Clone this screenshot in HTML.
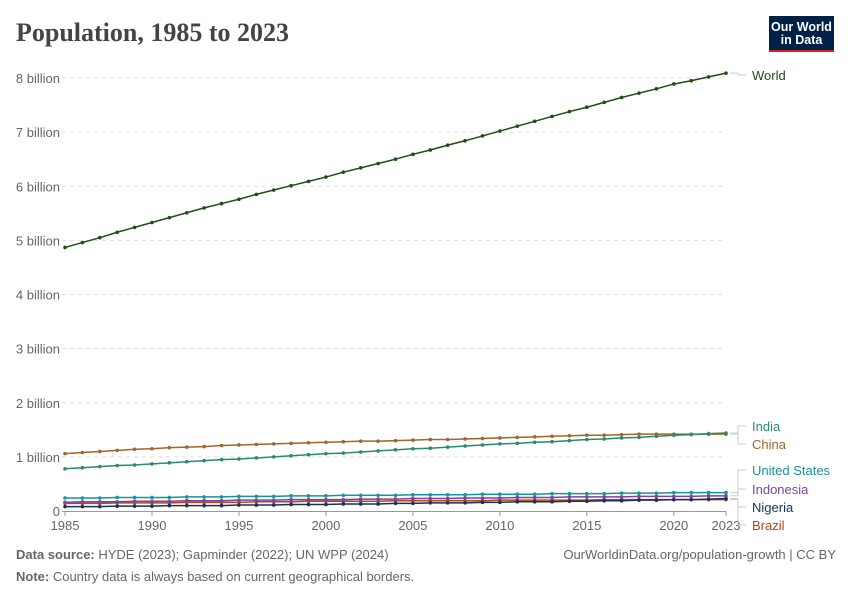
<!DOCTYPE html>
<html><head><meta charset="utf-8"><style>
body{margin:0;background:#fff;font-family:"Liberation Sans",sans-serif;}
#wrap{position:relative;width:850px;height:600px;overflow:hidden;}
</style></head><body>
<div id="wrap">
<svg id="chart" width="850" height="600"></svg>
</div>
<script>
const years=[];for(let y=1985;y<=2023;y++)years.push(y);
const world=[4.87,4.96,5.05,5.15,5.24,5.33,5.42,5.51,5.60,5.68,5.76,5.85,5.93,6.01,6.09,6.17,6.26,6.34,6.42,6.50,6.59,6.67,6.76,6.84,6.93,7.02,7.11,7.20,7.29,7.38,7.46,7.55,7.64,7.72,7.80,7.89,7.95,8.02,8.09];
const india=[.78,.80,.82,.84,.85,.87,.89,.91,.93,.95,.96,.98,1.00,1.02,1.04,1.06,1.07,1.09,1.11,1.13,1.15,1.16,1.18,1.20,1.22,1.24,1.25,1.27,1.28,1.30,1.32,1.33,1.35,1.36,1.38,1.40,1.41,1.43,1.44];
const china=[1.06,1.08,1.10,1.12,1.14,1.15,1.17,1.18,1.19,1.21,1.22,1.23,1.24,1.25,1.26,1.27,1.28,1.29,1.29,1.30,1.31,1.32,1.32,1.33,1.34,1.35,1.36,1.37,1.38,1.39,1.40,1.40,1.41,1.42,1.42,1.42,1.42,1.42,1.42];
const usa=[.24,.24,.24,.25,.25,.25,.25,.26,.26,.26,.27,.27,.27,.28,.28,.28,.29,.29,.29,.29,.30,.30,.30,.30,.31,.31,.31,.31,.32,.32,.32,.32,.33,.33,.33,.34,.34,.34,.34];
const indonesia=[.16,.17,.17,.17,.18,.18,.18,.19,.19,.19,.20,.20,.20,.21,.21,.21,.21,.22,.22,.22,.23,.23,.23,.24,.24,.24,.25,.25,.25,.26,.26,.26,.26,.27,.27,.27,.27,.28,.28];
const nigeria=[.08,.08,.08,.09,.09,.09,.10,.10,.10,.10,.11,.11,.11,.12,.12,.12,.13,.13,.13,.14,.14,.15,.15,.15,.16,.16,.17,.17,.17,.18,.18,.19,.19,.20,.20,.21,.21,.22,.23];
const brazil=[.14,.14,.14,.15,.15,.15,.15,.16,.16,.16,.16,.17,.17,.17,.18,.18,.18,.18,.18,.19,.19,.19,.19,.19,.19,.20,.20,.20,.20,.20,.20,.21,.21,.21,.21,.21,.21,.21,.21];
const yTicks=[0,1,2,3,4,5,6,7,8];
const yTickLabels=["0","1 billion","2 billion","3 billion","4 billion","5 billion","6 billion","7 billion","8 billion"];
const xTicks=[1985,1990,1995,2000,2005,2010,2015,2020,2023];

const svg=document.getElementById('chart');const NS="http://www.w3.org/2000/svg";
const X=y=>65+(y-1985)*(726-65)/38;
const Y=v=>511-v*(511-78)/8;
function mk(tag,attrs,parent){const e=document.createElementNS(NS,tag);for(const k in attrs)e.setAttribute(k,attrs[k]);(parent||svg).appendChild(e);return e;}
function txt(s,attrs){const e=mk('text',attrs);e.textContent=s;return e;}

let t=txt("Population, 1985 to 2023",{x:16,y:41,'font-family':'"Liberation Serif",serif','font-size':26,'font-weight':'bold',fill:'#444'});


const logo=mk('g',{});


mk('rect',{x:769,y:16,width:65,height:36,fill:'#002147'},logo);
mk('rect',{x:769,y:50,width:65,height:2,fill:'#ce261e'},logo);
let l1=mk('text',{x:801.5,y:31,'font-size':12.5,'font-weight':'bold',fill:'#fff','text-anchor':'middle'},logo);l1.textContent="Our World";
let l2=mk('text',{x:801.5,y:44,'font-size':12.5,'font-weight':'bold',fill:'#fff','text-anchor':'middle'},logo);l2.textContent="in Data";

yTicks.forEach((v,i)=>{
  if(v>0){const g=mk('line',{x1:62,x2:726,y1:Y(v),y2:Y(v),stroke:'#ddd','stroke-dasharray':'4,4'});
  
  }
  const l=txt(yTickLabels[i],{x:60,y:Y(v)+5,'font-size':13,fill:'#666','text-anchor':'end'});
  
  
});
const ax=mk('line',{x1:62,x2:726,y1:511.5,y2:511.5,stroke:'#999'});


xTicks.forEach(y=>{
  const tk=mk('line',{x1:X(y),x2:X(y),y1:511,y2:516,stroke:'#999'});
  
  
  const l=txt(String(y),{x:X(y),y:530,'font-size':13,fill:'#666','text-anchor':'middle'});
  
  
});

const series=[
 {n:'brazil',d:brazil,c:'#b5451b',label:'Brazil',ly:525},
 {n:'nigeria',d:nigeria,c:'#18305c',label:'Nigeria',ly:507},
 {n:'indonesia',d:indonesia,c:'#7a45a0',label:'Indonesia',ly:489},
 {n:'united-states',d:usa,c:'#18949c',label:'United States',ly:470},
 {n:'china',d:china,c:'#a2652a',label:'China',ly:444},
 {n:'india',d:india,c:'#2a8a6e',label:'India',ly:426},
 {n:'world',d:world,c:'#1f4d14',label:'World',ly:75}
];
series.forEach(s=>{
  const g=mk('g',{});
  
  
  const pts=s.d.map((v,i)=>X(years[i])+','+Y(v)).join(' ');
  mk('polyline',{points:pts,fill:'none',stroke:s.c,'stroke-width':1.5},g);
  s.d.forEach((v,i)=>{const c=mk('circle',{cx:X(years[i]),cy:Y(v),r:1.8,fill:s.c},g);
    
    });
  const endY=Y(s.d[s.d.length-1]);
  const ty=s.ly;
  mk('polyline',{points:`${X(2023)+4},${endY} 738,${endY} 738,${ty} 746,${ty}`,fill:'none',stroke:'#ccc'},g);
  const l=txt(s.label,{x:752,y:s.ly+5,'font-size':13,fill:s.c});
  
  
});

const f1=txt("",{x:16,y:559,'font-size':13,fill:'#666'});
f1.innerHTML='<tspan font-weight="bold">Data source:</tspan> HYDE (2023); Gapminder (2022); UN WPP (2024)';


const f2=txt("OurWorldinData.org/population-growth | CC BY",{x:836,y:559,'font-size':13,fill:'#666','text-anchor':'end'});


const f3=txt("",{x:16,y:581,'font-size':13,fill:'#666'});
f3.innerHTML='<tspan font-weight="bold">Note:</tspan> Country data is always based on current geographical borders.';


</script>
</body></html>
